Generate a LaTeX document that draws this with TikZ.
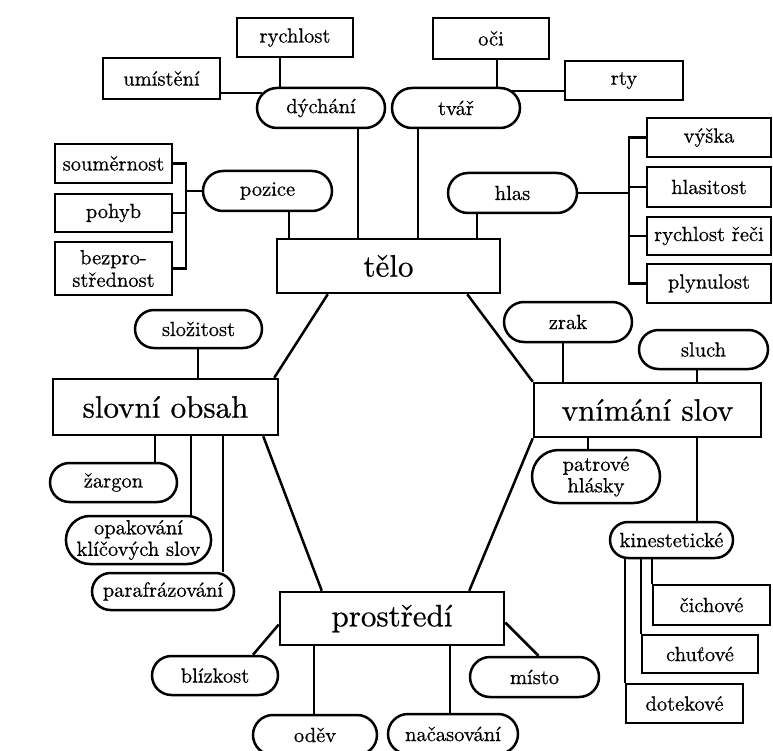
\documentclass[tikz,border=0pt]{standalone}
\usepackage{fontspec}
\setmainfont{lmroman10-regular.otf}[FakeBold=0.6]
\usetikzlibrary{shapes.misc,calc}
\tikzset{
  lw/.style={line width=2.5pt},
  rbox/.style={draw,lw,rectangle,inner sep=0pt,align=center,font=\fontsize{20.5}{22.5}\selectfont},
  pill/.style={draw,lw,rounded rectangle,inner sep=0pt,align=center,font=\fontsize{20.5}{21.5}\selectfont},
  bigbox/.style={draw,lw,rectangle,inner sep=0pt,align=center,font=\fontsize{31}{33}\selectfont},
  conn/.style={lw},
  sz/.style 2 args={minimum width=#1pt,minimum height=#2pt},
}
\begin{document}
\begin{tikzpicture}[x=1pt,y=-1pt]
\useasboundingbox (0,0) rectangle (773,751);
% top-left group
\node[rbox,sz={116}{39}] (rychlost) at (295,37.5) {rychlost};
\node[rbox,sz={117}{41}] (umisteni) at (161.5,78.5) {umístění};
\node[pill,sz={128}{40}] (dychani) at (321,108) {dýchání};
\node[rbox,sz={116}{41}] (oci) at (491,38.5) {oči};
\node[rbox,sz={118}{39}] (rty) at (624,80.5) {rty};
\node[pill,sz={128}{40}] (tvar) at (456,108) {tvář};
\node[rbox,sz={117}{39}] (soum) at (113.5,163.5) {souměrnost};
\node[rbox,sz={117}{38}] (pohyb) at (113.5,213) {pohyb};
\node[rbox,sz={117}{53}] (bezpro) at (113.5,268.5) {bezpro-\\střednost};
\node[pill,sz={129}{40}] (pozice) at (267.5,191) {pozice};
\node[pill,sz={129}{40}] (hlas) at (512.5,193) {hlas};
\node[rbox,sz={124}{39}] (vyska) at (709,137.5) {výška};
\node[rbox,sz={124}{40}] (hlasitost) at (709,187) {hlasitost};
\node[rbox,sz={124}{38}] (rychrec) at (709,236) {rychlost řeči};
\node[rbox,sz={124}{39}] (plyn) at (709,283.5) {plynulost};
\node[bigbox,sz={223}{54}] (telo) at (388.5,266) {tělo};
% left group
\node[pill,sz={127}{38}] (slozitost) at (198.5,329) {složitost};
\node[bigbox,sz={225}{56}] (slovni) at (165.5,407) {slovní obsah};
\node[pill,sz={127}{39}] (zargon) at (113.5,482.5) {žargon};
\node[pill,sz={139}{48}] (opak) at (138.5,540) {opakování\\klíčových slov};
\node[pill,sz={142}{37}] (paraf) at (163,591.5) {parafrázování};
% right group
\node[pill,sz={128}{40}] (zrak) at (568,322) {zrak};
\node[pill,sz={129}{39}] (sluch) at (703.5,349.5) {sluch};
\node[bigbox,sz={227}{54}] (vnimani) at (647.5,410) {vnímání slov};
\node[pill,sz={128}{53}] (patrove) at (596,476.5) {patrové\\hlásky};
\node[pill,sz={123}{36}] (kinest) at (671.5,540) {kinestetické};
\node[rbox,sz={117}{40}] (cichove) at (711.5,605) {čichové};
\node[rbox,sz={116}{38}] (chutove) at (700,654) {chuťové};
\node[rbox,sz={117}{39}] (dotekove) at (684.5,703.5) {dotekové};
% bottom group
\node[bigbox,sz={224}{53}] (prostredi) at (392,618.5) {prostředí};
\node[pill,sz={126}{39}] (blizkost) at (215,675.5) {blízkost};
\node[pill,sz={129}{40}] (misto) at (534.5,677) {místo};
\node[pill,sz={124}{40}] (odev) at (315,735) {oděv};
\node[pill,sz={130}{40}] (nacas) at (453,734) {načasování};
% helper x positions
\coordinate (x280) at (280,0);
\coordinate (x358) at (358,0);
\coordinate (x289) at (289,0);
\coordinate (x418) at (418,0);
\coordinate (x497) at (497,0);
\coordinate (x477) at (477,0);
\coordinate (bxr) at (629,0);
\coordinate (bxl) at (186,0);
\coordinate (x198) at (198,0);
\coordinate (x155) at (155,0);
\coordinate (x191) at (191,0);
\coordinate (x223) at (223,0);
\coordinate (x563) at (563,0);
\coordinate (x697) at (697,0);
\coordinate (x588) at (588,0);
\coordinate (x314) at (314,0);
\coordinate (x450) at (450,0);
% connectors: top
\draw[conn] (x280 |- rychlost.south) -- (x280 |- dychani.north);
\draw[conn] (dychani.166) -- (dychani.166 -| umisteni.east);
\draw[conn] (x358 |- dychani.south) -- (x358 |- telo.north);
\draw[conn] (x497 |- oci.south) -- (x497 |- tvar.north);
\draw[conn] (tvar.17) -- (tvar.17 -| rty.west);
\draw[conn] (x418 |- tvar.south) -- (x418 |- telo.north);
\draw[conn] (x289 |- pozice.south) -- (x289 |- telo.north);
\draw[conn] (x477 |- hlas.south) -- (x477 |- telo.north);
% right bracket
\draw[conn] (hlas.east) -- (bxr |- hlas.east);
\draw[conn] (vyska.west) -- (bxr |- vyska.west) -- (bxr |- plyn.west) -- (plyn.west);
\draw[conn] (hlasitost.west) -- (bxr |- hlasitost.west);
\draw[conn] (rychrec.west) -- (bxr |- rychrec.west);
% left bracket
\draw[conn] (pozice.west) -- (bxl |- pozice.west);
\draw[conn] (soum.east) -- (bxl |- soum.east) -- (bxl |- bezpro.east) -- (bezpro.east);
\draw[conn] (pohyb.east) -- (bxl |- pohyb.east);
% hexagon
\draw[conn] ($(telo.south west)+(52,0)$) -- ($(slovni.north east)+(-5,0)$);
\draw[conn] ($(telo.south east)+(-34,0)$) -- (vnimani.north west);
\draw[conn] ($(slovni.south east)+(-16,0)$) -- ($(prostredi.north west)+(43,0)$);
\draw[conn] (vnimani.south west) -- ($(prostredi.north east)+(-36,0)$);
% slovni obsah
\draw[conn] (x198 |- slozitost.south) -- (x198 |- slovni.north);
\draw[conn] (x155 |- slovni.south) -- (x155 |- zargon.north);
\draw[conn] (x191 |- slovni.south) -- (x191 |- opak.north);
\draw[conn] (x223 |- slovni.south) -- (x223 |- paraf.north);
% vnimani slov
\draw[conn] (x563 |- zrak.south) -- (x563 |- vnimani.north);
\draw[conn] (x697 |- sluch.south) -- (x697 |- vnimani.north);
\draw[conn] (x588 |- vnimani.south) -- (x588 |- patrove.north);
\draw[conn] (x697 |- vnimani.south) -- (x697 |- kinest.north);
\draw[conn] (cichove.north west |- kinest.south) -- (cichove.north west);
\draw[conn] (chutove.north west |- kinest.south) -- (chutove.north west);
\draw[conn] (dotekove.north west |- kinest.south) -- (dotekove.north west);
% prostredi
\draw[conn] ($(prostredi.west)+(0,6)$) -- ($(blizkost.north)+(38,0)$);
\draw[conn] ($(prostredi.east)+(0,4)$) -- ($(misto.north)+(4,0)$);
\draw[conn] (x314 |- prostredi.south) -- (x314 |- odev.north);
\draw[conn] (x450 |- prostredi.south) -- (x450 |- nacas.north);
\end{tikzpicture}
\end{document}
